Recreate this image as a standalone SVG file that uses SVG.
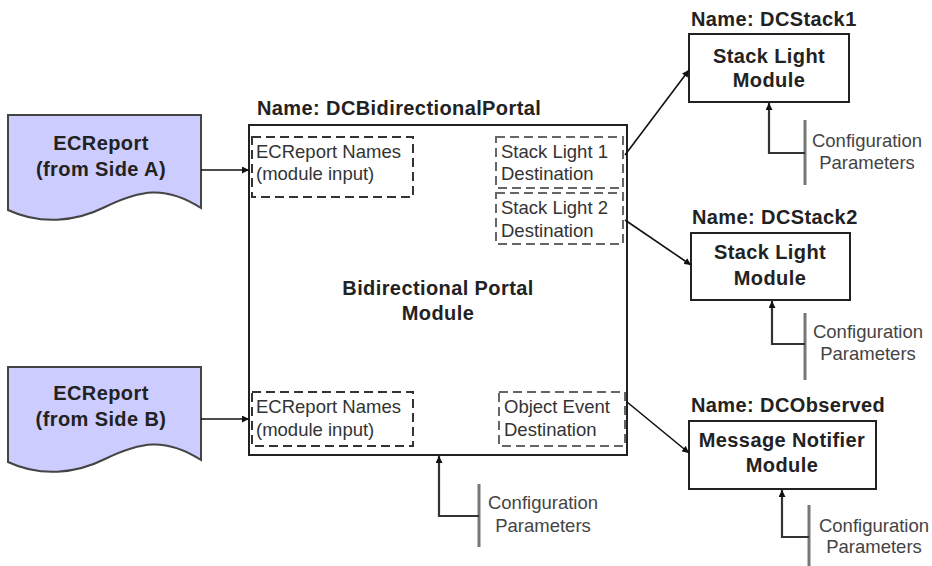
<svg xmlns="http://www.w3.org/2000/svg" width="932" height="566" viewBox="0 0 932 566">
<style>
.doc{fill:#ccccff;stroke:#444;stroke-width:2}
.box{fill:#fff;stroke:#222;stroke-width:2}
.dash{fill:none;stroke:#333;stroke-width:2;stroke-dasharray:9,5}
.dash2{fill:none;stroke:#666;stroke-width:2;stroke-dasharray:9,5}
.b{font-family:"Liberation Sans",Arial,sans-serif;font-weight:bold;font-size:20px;letter-spacing:0.4px;fill:#222}
.bc{text-anchor:middle}
.r{font-family:"Liberation Sans",Arial,sans-serif;font-size:18.5px;fill:#333}
.cfg{font-family:"Liberation Sans",Arial,sans-serif;font-size:18.5px;fill:#444;text-anchor:middle}
.conn{fill:none;stroke:#111;stroke-width:1.6}
.cline{fill:none;stroke:#333;stroke-width:2.2}
.bar{stroke:#777;stroke-width:3}
</style>
<defs>
<marker id="ah" viewBox="0 0 10 10" refX="10" refY="5" markerWidth="7" markerHeight="7" markerUnits="userSpaceOnUse" orient="auto">
<path d="M0,0 L10,5 L0,10 Z" fill="#111"/>
</marker>
<marker id="ah2" viewBox="0 0 10 10" refX="10" refY="5" markerWidth="6" markerHeight="6" orient="auto">
<path d="M0,0 L10,5 L0,10 Z" fill="#111"/>
</marker>
</defs>

<g id="ecreport-a">
<path class="doc" d="M8,115 H201 V208 C165,185 140,190 105,207 C75,222 40,225 8,210 Z"/>
<text class="b bc" x="101" y="150">ECReport</text>
<text class="b bc" x="101" y="176">(from Side A)</text>
</g>

<g id="ecreport-b">
<path class="doc" d="M8,367 H201 V460 C165,437 140,442 105,459 C75,474 40,477 8,462 Z"/>
<text class="b bc" x="101" y="400">ECReport</text>
<text class="b bc" x="101" y="426">(from Side B)</text>
</g>

<g id="portal">
<text class="b" x="257" y="115">Name: DCBidirectionalPortal</text>
<rect class="box" x="249" y="125" width="378" height="330"/>
<text class="b bc" x="438" y="295">Bidirectional Portal</text>
<text class="b bc" x="438" y="320">Module</text>
<g id="in-a">
<rect class="dash" x="252" y="137" width="161" height="60"/>
<text class="r" x="256" y="158">ECReport Names</text>
<text class="r" x="256" y="180">(module input)</text>
</g>
<g id="dest-1">
<rect class="dash2" x="496" y="137" width="127" height="51"/>
<text class="r" x="501" y="158">Stack Light 1</text>
<text class="r" x="501" y="180">Destination</text>
</g>
<g id="dest-2">
<rect class="dash2" x="496" y="193" width="127" height="51"/>
<text class="r" x="501" y="214">Stack Light 2</text>
<text class="r" x="501" y="237">Destination</text>
</g>
<g id="in-b">
<rect class="dash" x="252" y="392" width="161" height="54"/>
<text class="r" x="256" y="413">ECReport Names</text>
<text class="r" x="256" y="436">(module input)</text>
</g>
<g id="dest-obj">
<rect class="dash2" x="499" y="392" width="126" height="54"/>
<text class="r" x="504" y="413">Object Event</text>
<text class="r" x="504" y="436">Destination</text>
</g>
</g>

<g id="stack1">
<text class="b" x="691" y="26">Name: DCStack1</text>
<rect class="box" x="689" y="34" width="160" height="68"/>
<text class="b bc" x="769" y="63">Stack Light</text>
<text class="b bc" x="769" y="87">Module</text>
</g>

<g id="stack2">
<text class="b" x="692" y="224">Name: DCStack2</text>
<rect class="box" x="691" y="233" width="159" height="67"/>
<text class="b bc" x="770" y="259">Stack Light</text>
<text class="b bc" x="770" y="285">Module</text>
</g>

<g id="notifier">
<text class="b" x="691" y="412">Name: DCObserved</text>
<rect class="box" x="689" y="421" width="187" height="68"/>
<text class="b bc" x="782" y="447">Message Notifier</text>
<text class="b bc" x="782" y="472">Module</text>
</g>

<g id="cfg-portal">
<line class="bar" x1="479" y1="484" x2="479" y2="547"/>
<text class="cfg" x="543" y="509">Configuration</text>
<text class="cfg" x="543" y="532">Parameters</text>
</g>
<g id="cfg-stack1">
<line class="bar" x1="805" y1="120" x2="805" y2="185"/>
<text class="cfg" x="867" y="147">Configuration</text>
<text class="cfg" x="867" y="169">Parameters</text>
</g>
<g id="cfg-stack2">
<line class="bar" x1="805" y1="313" x2="805" y2="380"/>
<text class="cfg" x="868" y="338">Configuration</text>
<text class="cfg" x="868" y="360">Parameters</text>
</g>
<g id="cfg-notifier">
<line class="bar" x1="809" y1="505" x2="809" y2="566"/>
<text class="cfg" x="874" y="532">Configuration</text>
<text class="cfg" x="874" y="553">Parameters</text>
</g>

<g id="connectors">
<line class="conn" x1="201" y1="170" x2="249" y2="170" marker-end="url(#ah)"/>
<line class="conn" x1="201" y1="419" x2="249" y2="419" marker-end="url(#ah)"/>
<line class="conn" x1="625" y1="155" x2="689" y2="70" marker-end="url(#ah)"/>
<line class="conn" x1="625" y1="220" x2="691" y2="265" marker-end="url(#ah)"/>
<line class="conn" x1="627" y1="402" x2="689" y2="453" marker-end="url(#ah)"/>
<path class="cline" d="M479,516 H439 V456" marker-end="url(#ah)"/>
<path class="cline" d="M805,153 H769 V103" marker-end="url(#ah)"/>
<path class="cline" d="M805,344 H772 V301" marker-end="url(#ah)"/>
<path class="cline" d="M809,537 H782 V490" marker-end="url(#ah)"/>
</g>
</svg>
